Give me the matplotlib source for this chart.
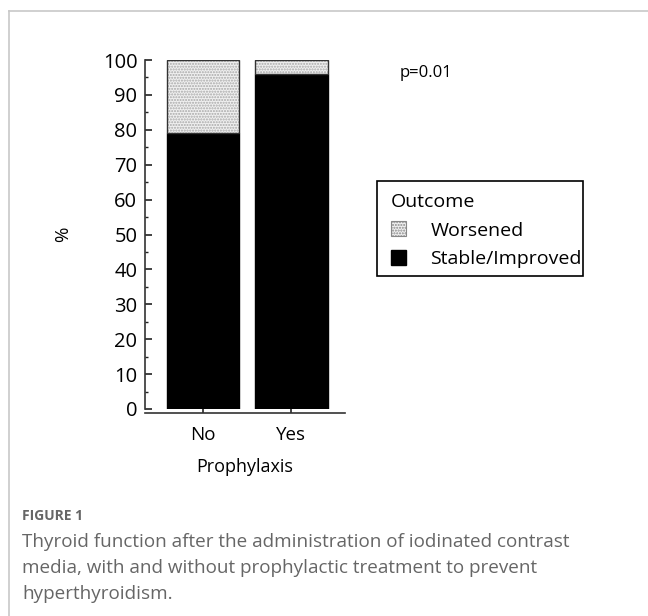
import matplotlib.pyplot as plt
from matplotlib.patches import Patch, Rectangle
from matplotlib.lines import Line2D

plt.rcParams['font.family'] = ['Open Sans', 'DejaVu Sans']

groups = ["No", "Yes"]
stable = [79, 96]
worsened = [21, 4]
yticks = [0, 10, 20, 30, 40, 50, 60, 70, 80, 90, 100]

caption = ("Thyroid function after the administration of iodinated contrast\n"
           "media, with and without prophylactic treatment to prevent\n"
           "hyperthyroidism.")

W, H = 648, 616
fig = plt.figure(figsize=(W / 100, H / 100), dpi=100)

# page frame (top and left rule)
fig.add_artist(Line2D([9 / W, 1], [1 - 11 / H, 1 - 11 / H], color="#c8c8c8", lw=1.2))
fig.add_artist(Line2D([9 / W, 9 / W], [0, 1 - 11 / H], color="#c8c8c8", lw=1.2))

ax = fig.add_axes([145 / W, 1 - 409 / H, (345 - 145) / W, (409 - 60) / H])

x = [0, 1]
bw = 0.815
ax.bar(x, stable, width=bw, color="black", edgecolor="black", lw=1)
ax.bar(x, worsened, bottom=stable, width=bw, color="#f0f0f0",
       edgecolor="#a8a8a8", hatch="......", lw=0)
ax.bar(x, worsened, bottom=stable, width=bw, fill=False,
       edgecolor="#333333", lw=1)

ax.set_xlim(-0.655, 1.605)
ax.set_ylim(0, 100)
ax.set_yticks(yticks)
ax.set_yticks(range(5, 100, 10), minor=True)
ax.set_xticks(x)
ax.set_xticklabels(groups)
ax.tick_params(axis="both", which="both", direction="in", color="#222222", width=1.2)
ax.tick_params(axis="y", which="major", length=5, pad=5.5, labelsize=14.5)
ax.tick_params(axis="y", which="minor", length=2.5, width=1)
ax.tick_params(axis="x", length=3, pad=9.5, labelsize=13.5)
for s in ["top", "right"]:
    ax.spines[s].set_visible(False)
for s in ["left", "bottom"]:
    ax.spines[s].set_linewidth(1.2)
    ax.spines[s].set_color("#333333")
ax.spines["bottom"].set_position(("outward", 3))

ax.set_xlabel("Prophylaxis", fontsize=13, labelpad=10)
ax.set_ylabel("%", fontsize=13.5, labelpad=22, rotation=90)

# legend frame drawn by hand, tighter on the right like the original
fig.add_artist(Rectangle((377 / W, 1 - 276 / H), (583 - 377) / W, (276 - 181) / H,
                         fill=False, edgecolor="black", lw=1.2))
handles = [Patch(facecolor="#f0f0f0", edgecolor="#888888", hatch="......", lw=0.8),
           Patch(facecolor="black", edgecolor="black")]
leg = fig.legend(handles, ["Worsened", "Stable/Improved"], title="Outcome",
                 loc="upper left", bbox_to_anchor=(379 / W, 1 - 181 / H),
                 borderaxespad=0, fontsize=14, title_fontsize=14, frameon=False,
                 handlelength=0.8, handleheight=0.8, handletextpad=1.25,
                 borderpad=0.6, labelspacing=0.55, alignment="left")

fig.text(400 / W, 1 - 73 / H, "p=0.01", fontsize=12, va="center", ha="left")

fig.text(22 / W, 1 - 516 / H, "FIGURE 1", fontsize=10, color="#666666",
         va="center", ha="left", fontweight="bold")
fig.text(22 / W, 1 - 533 / H, caption, fontsize=13.6, color="#666666",
         va="top", ha="left", linespacing=1.58)

fig.savefig("out.png", dpi=100)
